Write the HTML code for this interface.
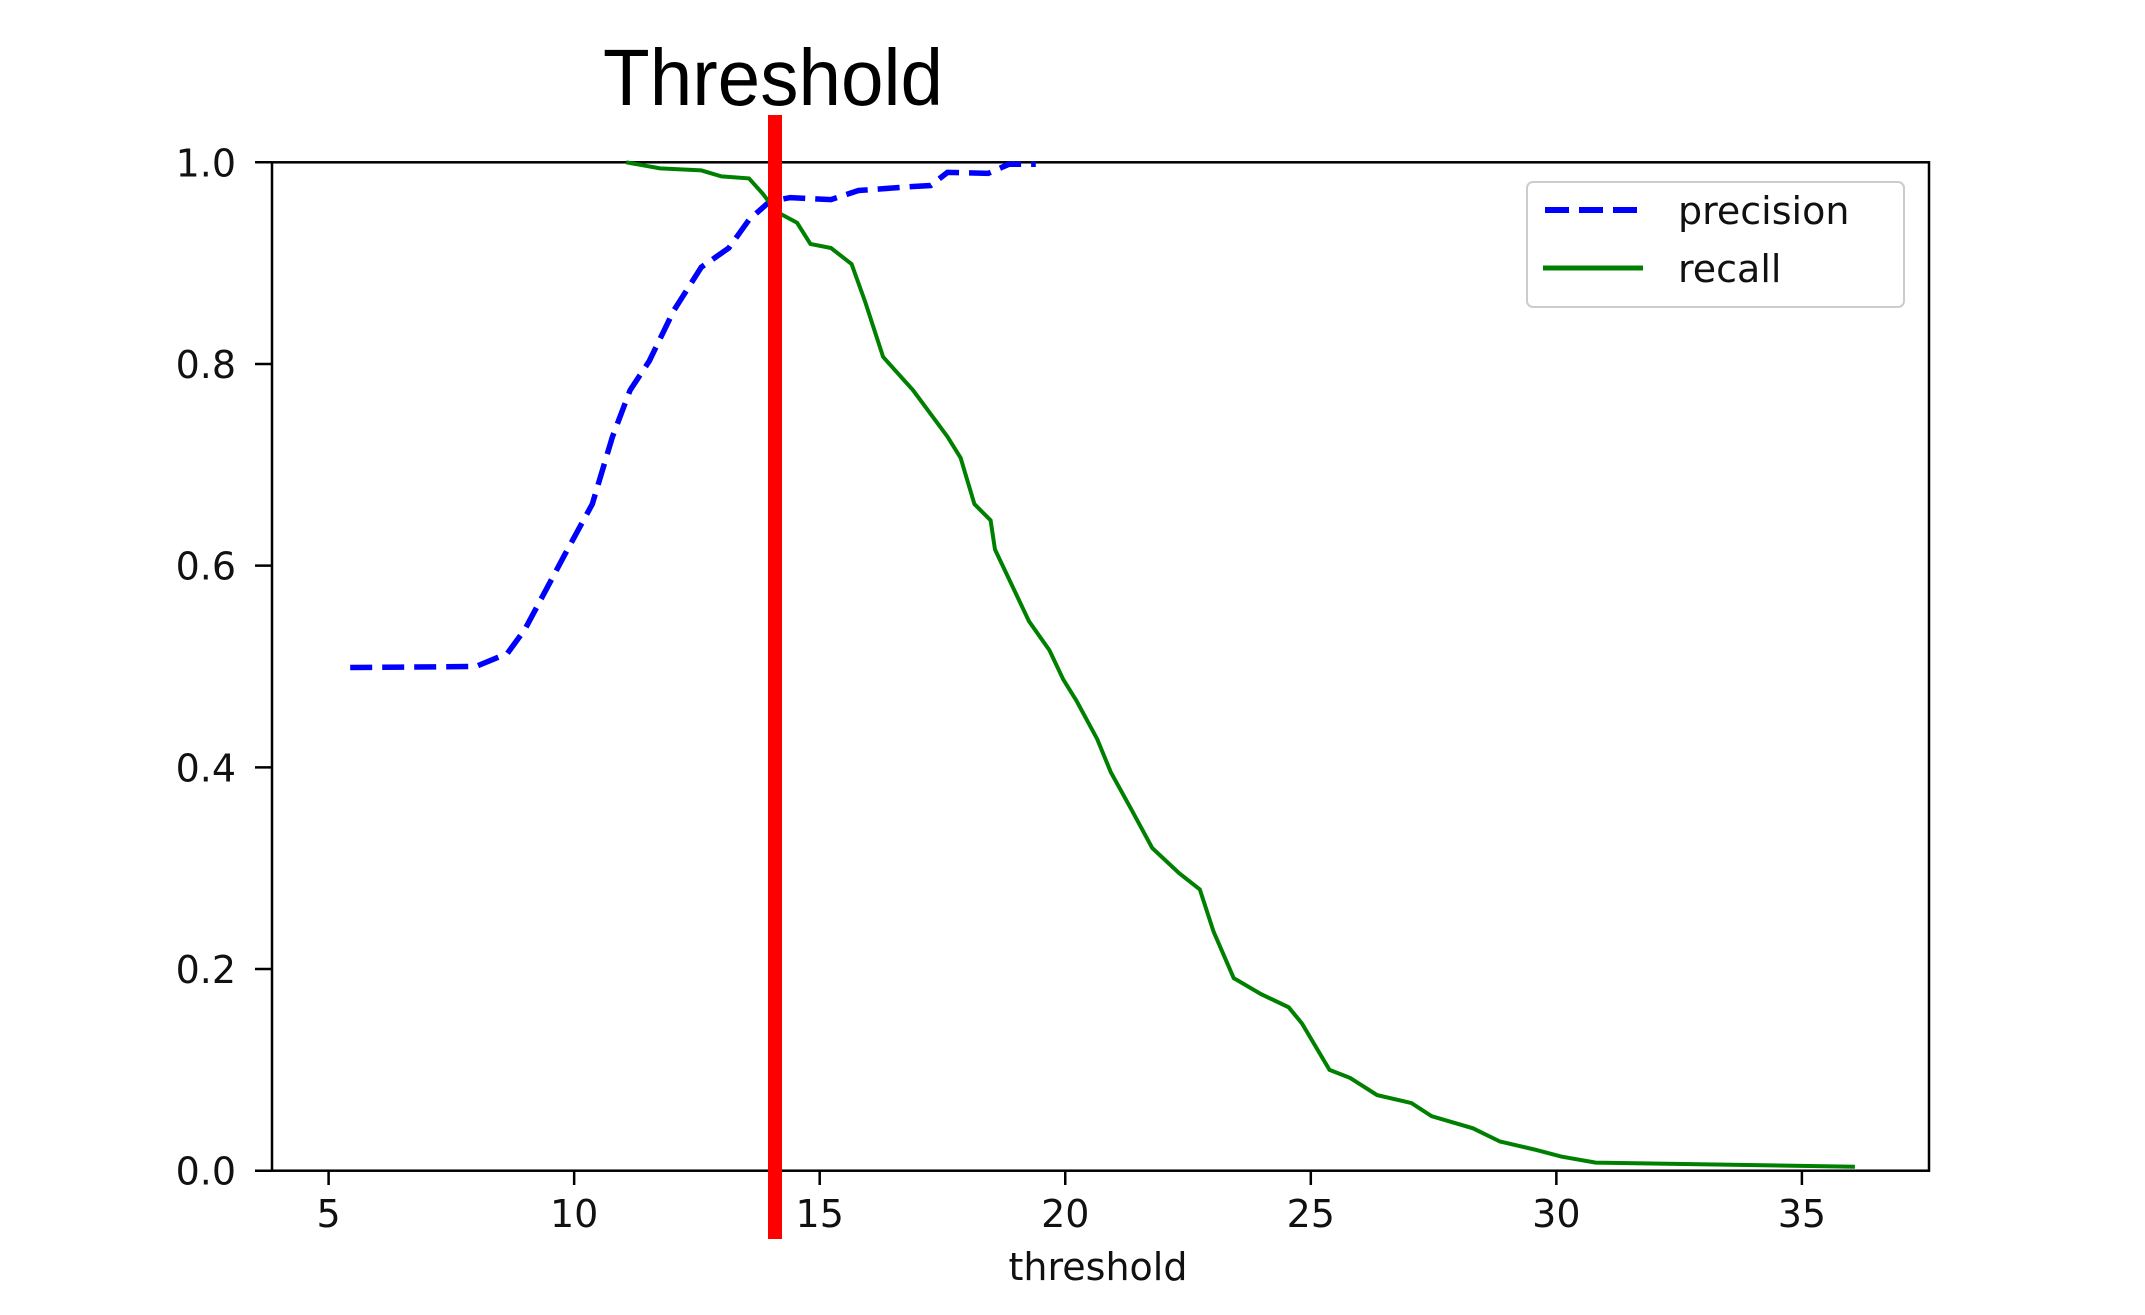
<!DOCTYPE html>
<html><head><meta charset="utf-8">
<style>
html,body{margin:0;padding:0;background:#fff;}
svg{display:block;}
text{font-family:"DejaVu Sans","Liberation Sans",sans-serif;fill:#111;}
</style></head>
<body>
<svg id="chart" width="2145" height="1315" viewBox="0 0 2145 1315" xmlns="http://www.w3.org/2000/svg">
<text x="603" y="105" font-size="80" textLength="340" lengthAdjust="spacingAndGlyphs" style="font-family:'Liberation Sans',sans-serif;fill:#000">Threshold</text>
<rect x="272" y="162.3" width="1657" height="1008.4" fill="#fff" stroke="#000" stroke-width="2.5"/>
<g id="ticks"></g>
<g id="series"></g>
<g>
<rect x="1527" y="182" width="377" height="125" rx="6" fill="#fff" stroke="#ccc" stroke-width="2"/>
<line x1="1545" y1="210" x2="1641" y2="210" stroke="#0000ff" stroke-width="6" stroke-dasharray="24,10"/>
<text x="1678" y="224" font-size="38">precision</text>
<line x1="1543" y1="268" x2="1643" y2="268" stroke="#008000" stroke-width="5"/>
<text x="1678" y="282" font-size="38">recall</text>
</g>
<text x="1098" y="1280" font-size="38" text-anchor="middle">threshold</text>
<line x1="775" y1="115" x2="775" y2="1239" stroke="#ff0000" stroke-width="14"/>
</svg>
<script>
const xTicks = [5, 10, 15, 20, 25, 30, 35];
const yTicks = [0.0, 0.2, 0.4, 0.6, 0.8, 1.0];
const yTickLabels = ["0.0", "0.2", "0.4", "0.6", "0.8", "1.0"];
const precisionX = [5.44, 8.0, 8.64, 9.0, 9.81, 10.37, 10.78, 11.14, 11.53, 12.03, 12.59, 13.15, 13.56, 13.98, 14.4, 15.23, 15.79, 16.9, 17.26, 17.6, 18.43, 18.85, 19.4];
const precisionY = [0.499, 0.5, 0.513, 0.537, 0.611, 0.661, 0.728, 0.774, 0.803, 0.853, 0.896, 0.915, 0.943, 0.961, 0.965, 0.963, 0.972, 0.976, 0.977, 0.99, 0.989, 0.998, 0.998];
const recallX = [11.06, 11.75, 12.59, 13.0, 13.56, 13.84, 14.12, 14.54, 14.81, 15.23, 15.65, 15.93, 16.29, 16.9, 17.6, 17.87, 18.15, 18.48, 18.57, 19.26, 19.68, 19.96, 20.23, 20.65, 20.93, 21.35, 21.77, 22.32, 22.74, 23.02, 23.43, 23.99, 24.55, 24.82, 25.38, 25.8, 26.35, 27.05, 27.46, 28.3, 28.85, 29.55, 30.1, 30.8, 36.08];
const recallY = [1.0, 0.994, 0.992, 0.986, 0.984, 0.969, 0.951, 0.94, 0.919, 0.915, 0.899, 0.861, 0.807, 0.774, 0.728, 0.707, 0.661, 0.645, 0.616, 0.545, 0.516, 0.487, 0.466, 0.428, 0.395, 0.358, 0.32, 0.295, 0.279, 0.237, 0.191, 0.175, 0.162, 0.146, 0.1, 0.092, 0.075, 0.067, 0.054, 0.042, 0.029, 0.021, 0.014, 0.008, 0.004];

const NS = "http://www.w3.org/2000/svg";
function xs(v){ return 328.6 + (v - 5) * 49.11; }
function ys(v){ return 1170.7 - v * 1008.4; }
const tg = document.getElementById('ticks');
const sg = document.getElementById('series');
function mk(tag, attrs, parent){ const e = document.createElementNS(NS, tag); for (const k in attrs) e.setAttribute(k, attrs[k]); parent.appendChild(e); return e; }

xTicks.forEach(v => {
  const t = mk('line', {x1: xs(v), x2: xs(v), y1: 1170.7, y2: 1185, stroke: '#000', 'stroke-width': 2.5}, tg);
  
  
  const l = mk('text', {x: xs(v), y: 1227, 'font-size': 38, 'text-anchor': 'middle'}, tg);
  
  
  l.textContent = String(v);
});
yTicks.forEach((v, i) => {
  const t = mk('line', {x1: 255, x2: 272, y1: ys(v), y2: ys(v), stroke: '#000', 'stroke-width': 2.5}, tg);
  
  
  const l = mk('text', {x: 236, y: ys(v) + 14, 'font-size': 38, 'text-anchor': 'end'}, tg);
  
  
  l.textContent = yTickLabels[i];
});

const pp = precisionX.map((x, i) => xs(x).toFixed(1) + ',' + ys(precisionY[i]).toFixed(1)).join(' ');
const pl = mk('polyline', {points: pp, fill: 'none', stroke: '#0000ff', 'stroke-width': 5.5, 'stroke-dasharray': '22,10'}, sg);



const rp = recallX.map((x, i) => xs(x).toFixed(1) + ',' + ys(recallY[i]).toFixed(1)).join(' ');
const rl = mk('polyline', {points: rp, fill: 'none', stroke: '#008000', 'stroke-width': 4}, sg);


</script>
</body></html>
